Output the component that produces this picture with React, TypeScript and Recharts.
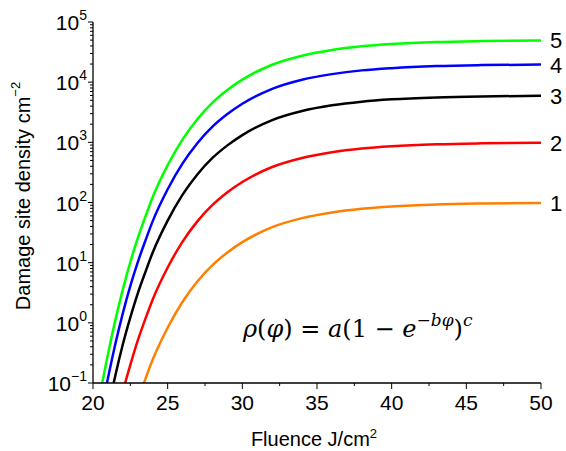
import React from 'react';
import { LineChart, Line, XAxis, YAxis, LabelList } from 'recharts';

const fluence = [20, 20.5, 21, 21.5, 22, 22.5, 23, 23.5, 24, 25, 26, 27, 28, 29, 30, 32, 34, 36, 38, 40, 43, 46, 50];
const curve5 = [0.013, 0.069, 0.3, 1.12, 3.6, 10.2, 25.7, 57.5, 123, 417, 1120, 2450, 4570, 7410, 11000, 19500, 27500, 34300, 39400, 43000, 46500, 48200, 49300];
const curve4 = [0.0052, 0.028, 0.12, 0.45, 1.45, 4.1, 10.2, 22.9, 49, 166, 447, 977, 1820, 2950, 4370, 7760, 11000, 13600, 15700, 17100, 18500, 19200, 19600];
const curve3 = [0.0016, 0.0083, 0.036, 0.135, 0.44, 1.23, 3.1, 6.9, 14.8, 50, 135, 295, 550, 890, 1320, 2340, 3310, 4120, 4740, 5180, 5580, 5800, 5930];
const curve2 = [null, null, 0.006, 0.022, 0.072, 0.2, 0.51, 1.15, 2.45, 8.3, 22.4, 49, 91, 148, 219, 389, 550, 684, 787, 859, 927, 962, 985];
const curve1 = [null, null, null, null, 0.0072, 0.02, 0.051, 0.115, 0.245, 0.83, 2.24, 4.9, 9.1, 14.8, 21.9, 38.9, 55, 68.4, 78.7, 85.9, 92.7, 96.2, 98.5];

const seriesNames = ['1', '2', '3', '4', '5'];
const seriesColors = ['#FF8000', '#FF0000', '#000000', '#0000FF', '#00FF00'];
const xTicks = [20, 22.5, 25, 27.5, 30, 32.5, 35, 37.5, 40, 42.5, 45, 47.5, 50];
const xMajor = [20, 25, 30, 35, 40, 45, 50];
const yMajor = [0.1, 1, 10, 100, 1000, 10000, 100000];
const yExponents = ['\u22121', '0', '1', '2', '3', '4', '5'];
const yMinorMultipliers = [2, 3, 4, 5, 6, 7, 8, 9];

const curves = [curve1, curve2, curve3, curve4, curve5];
const data = fluence.map((phi, i) => {
  const row: any = { phi };
  curves.forEach((c, k) => {
    row['s' + seriesNames[k]] = c[i];
  });
  return row;
});

const yTicks: number[] = [];
yMajor.forEach((m, i) => {
  yTicks.push(m);
  if (i < yMajor.length - 1) {
    yMinorMultipliers.forEach((k) => yTicks.push(parseFloat((m * k).toPrecision(6))));
  }
});

const FONT = 'Liberation Sans, Arial, sans-serif';

const YTick = (props: any) => {
  const { x, y, payload } = props;
  const v = payload.value;
  const idx = yMajor.findIndex((m) => Math.abs(Math.log10(m) - Math.log10(v)) < 1e-6);
  const major = idx >= 0;
  return (
    <g>
      <line x1={x} x2={x - (major ? 5 : 3)} y1={y} y2={y} stroke="#000" strokeWidth={1} />
      {major && (
        <text x={x - 6} y={y + 8} textAnchor="end" fontFamily={FONT} fontSize={21} fill="#000">
          <tspan>10</tspan>
          <tspan dy={-10} fontSize={14}>{yExponents[idx]}</tspan>
        </text>
      )}
    </g>
  );
};

const XTick = (props: any) => {
  const { x, y, payload } = props;
  const major = xMajor.includes(payload.value);
  return (
    <g>
      <line x1={x} x2={x} y1={y} y2={y + (major ? 6 : 3)} stroke="#000" strokeWidth={1} />
      {major && (
        <text x={x} y={y + 27} textAnchor="middle" fontFamily={FONT} fontSize={21} fill="#000">
          {payload.value}
        </text>
      )}
    </g>
  );
};

const makeEndLabel = (name: string) => (props: any) => {
  const { x, y, index } = props;
  if (index !== fluence.length - 1) return null;
  return (
    <text x={x + 9} y={y + 8} fontFamily={FONT} fontSize={22} fill="#000">
      {name}
    </text>
  );
};

export default function App() {
  return (
    <div style={{ position: 'absolute', left: 0, top: 0, width: 566, height: 451, background: '#fff' }}>
      <LineChart width={566} height={451} data={data} margin={{ top: 22, right: 25, left: 33, bottom: 38 }}>
        <XAxis
          dataKey="phi"
          type="number"
          domain={[20, 50]}
          ticks={xTicks}
          interval={0}
          allowDataOverflow
          tickLine={false}
          tickSize={0}
          tickMargin={0}
          height={30}
          axisLine={{ stroke: '#000', strokeWidth: 1.3 }}
          tick={<XTick />}
        />
        <YAxis
          type="number"
          scale="log"
          domain={[0.1, 100000]}
          ticks={yTicks}
          interval={0}
          allowDataOverflow
          tickLine={false}
          tickSize={0}
          tickMargin={0}
          width={60}
          axisLine={{ stroke: '#000', strokeWidth: 1.3 }}
          tick={<YTick />}
        />
        {seriesNames.map((n, k) => (
          <Line
            key={n}
            dataKey={'s' + n}
            stroke={seriesColors[k]}
            strokeWidth={2.5}
            dot={false}
            type="monotone"
            isAnimationActive={false}
          >
            <LabelList dataKey={'s' + n} content={makeEndLabel(n)} />
          </Line>
        ))}
        <text x={25} y={196} transform="rotate(-90 25 196)" textAnchor="middle" dominantBaseline="middle" fontFamily={FONT} fontSize={20} fill="#000">
          Damage site density cm<tspan dy={-8} fontSize={13}>{'\u22122'}</tspan>
        </text>
        <text x={314} y={446} textAnchor="middle" fontFamily={FONT} fontSize={20} fill="#000">
          Fluence J/cm<tspan dy={-8} fontSize={13}>2</tspan>
        </text>
        <text x={243} y={337} fontFamily="DejaVu Serif, Liberation Serif, serif" fontSize={24} fill="#000">
          <tspan fontStyle="italic">{'\u03C1'}</tspan>
          <tspan>(</tspan>
          <tspan fontStyle="italic">{'\u03C6'}</tspan>
          <tspan>{') = '}</tspan>
          <tspan fontStyle="italic">a</tspan>
          <tspan>{'(1 \u2212 '}</tspan>
          <tspan fontStyle="italic">e</tspan>
          <tspan dy={-11} fontSize={17}>{'\u2212'}</tspan>
          <tspan fontSize={17} fontStyle="italic">{'b\u03C6'}</tspan>
          <tspan dy={11}>)</tspan>
          <tspan dy={-11} fontSize={17} fontStyle="italic">c</tspan>
        </text>
      </LineChart>
    </div>
  );
}
